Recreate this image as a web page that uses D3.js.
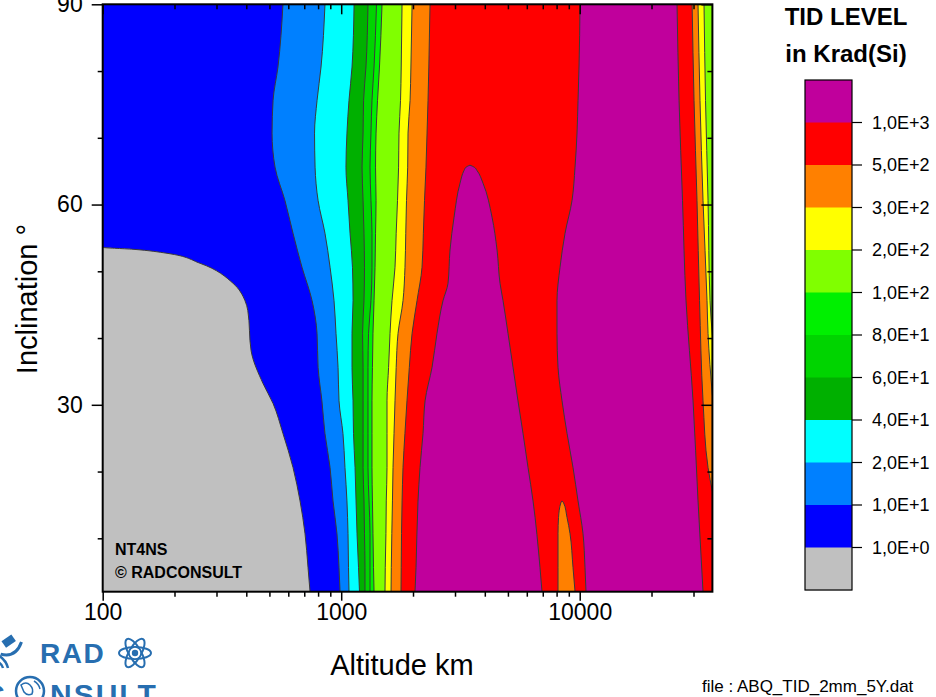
<!DOCTYPE html>
<html><head><meta charset="utf-8">
<script src="https://cdn.jsdelivr.net/npm/d3@7/dist/d3.min.js"></script>
<style>
body{margin:0;background:#fff;}
svg{display:block;font-family:"Liberation Sans",Arial,sans-serif;}
</style>
</head><body>
<svg id="chart" width="936" height="697"></svg>
<script>
// ---------------- DATA ----------------
const altitudeMajorTicks = [100, 1000, 10000];
const inclinationMajorTicks = [30, 60, 90];
const inclinationMinorTicks = [10, 20, 40, 50, 70, 80];
const legendLabels = ["1,0E+3","5,0E+2","3,0E+2","2,0E+2","1,0E+2","8,0E+1","6,0E+1","4,0E+1","2,0E+1","1,0E+1","1,0E+0"];

// 1 krad(Si) contour (grey / blue)
const tid1Inc = [2, 5.6, 10.7, 15.6, 20.6, 25.7, 30.2, 33.2, 38.1, 44.1, 45.6, 48.2, 51.2, 52.7, 53.3, 53.6, 90];
const tid1Alt = [740, 726, 705, 672, 628, 570, 518, 470, 419, 406, 395, 352, 256, 186, 134, 100, 100];

// shared inclination samples for the rising contours (degrees)
const incSamples = [2, 5.6, 10.7, 15.6, 20.6, 25.7, 30.6, 35.6, 40.7, 45.6, 50.6, 55.7, 60.6, 65.6, 70.7, 75.6, 80.6, 90];
const tid10Alt  = [989, 979, 960, 924, 898, 855, 830, 800, 792, 755, 685, 628, 581, 528, 513, 518, 543, 570];
const tid20Alt  = [1078, 1073, 1068, 1057, 1037, 1017, 979, 970, 951, 933, 898, 855, 800, 777, 773, 792, 823, 855];
const tid40Alt  = [1193, 1182, 1165, 1154, 1143, 1126, 1121, 1110, 1110, 1121, 1115, 1089, 1068, 1047, 1057, 1078, 1110, 1132];
const tid60Alt  = [1258, 1258, 1252, 1246, 1235, 1235, 1235, 1235, 1229, 1246, 1252, 1246, 1235, 1223, 1235, 1241, 1270, 1295];
const tid80Alt  = [1321, 1321, 1321, 1308, 1295, 1295, 1295, 1295, 1302, 1333, 1346, 1346, 1333, 1321, 1333, 1346, 1373, 1406];
const tid100Alt = [1373, 1366, 1359, 1352, 1346, 1346, 1346, 1352, 1359, 1373, 1386, 1393, 1400, 1393, 1400, 1420, 1447, 1483];
const tid200Alt = [1526, 1530, 1540, 1545, 1556, 1556, 1556, 1580, 1602, 1633, 1681, 1700, 1722, 1740, 1747, 1773, 1785, 1799];
const tid300Alt = [1618, 1622, 1630, 1640, 1649, 1665, 1681, 1700, 1731, 1816, 1851, 1865, 1878, 1900, 1906, 1944, 1960, 1982];
const tid500Alt = [1781, 1785, 1790, 1800, 1816, 1850, 1887, 1930, 1982, 2079, 2182, 2210, 2235, 2267, 2290, 2312, 2330, 2357];
const tid1000MainAlt = [10627, 10524, 10323, 9838, 9374, 8849, 8430, 8110, 8031, 8031, 8269, 8679, 9284, 9557, 9743, 9840, 9933, 10030];

// >1000 krad tongue near 3500 km
const tongueInc   = [2, 5.6, 15.6, 20.6, 25.7, 30.6, 35.6, 40.7, 45.6, 48.2, 53.2, 58.1, 63.2, 65.1, 65.6, 65.9];
const tongueLeft  = [2039, 2059, 2099, 2140, 2203, 2247, 2403, 2521, 2672, 2804, 2859, 2972, 3149, 3273, 3337, 3467];
const tongueRight = [6949, 6816, 6372, 6072, 5786, 5510, 5253, 5004, 4770, 4634, 4502, 4290, 3932, 3710, 3612, 3467];

// 300-500 krad tongue near 8500 km
const orangeTongueInc   = [2, 5.6, 10.7, 13.1, 15.3, 15.6];
const orangeTongueLeft  = [8110, 8110, 8110, 8150, 8330, 8430];
const orangeTongueRight = [9557, 9374, 9106, 8849, 8560, 8430];

// falling contours near GEO
const fall1000Inc = [2, 15.6, 30.6, 45.6, 60.6, 75.6, 90];
const fall1000Alt = [32885, 31335, 29864, 27908, 26980, 26087, 25586];
const fall500Inc  = [17, 20.6, 30.6, 45.6, 60.6, 75.6, 90];
const fall500Alt  = [36000, 34514, 32885, 31800, 31027, 30152, 29600];
const fall300Inc  = [31.4, 40.7, 45.6, 60.6, 75.6, 90];
const fall300Alt  = [36000, 34514, 34180, 32885, 31942, 31335];
const fall200Inc  = [40.4, 45.6, 60.6, 75.6, 90];
const fall200Alt  = [36000, 35184, 34514, 33688, 33202];

// ---------------- STYLE ----------------
const C = {
  mag:"#C0009C", red:"#FF0000", orange:"#FF8000", yellow:"#FFFF00", yg:"#80FF00",
  g80:"#00F000", g60:"#00D400", g40:"#00B000", cyan:"#00FFFF", azure:"#0080FF",
  blue:"#0000FF", grey:"#C0C0C0"
};
const legendColors = [C.mag,C.red,C.orange,C.yellow,C.yg,C.g80,C.g60,C.g40,C.cyan,C.azure,C.blue,C.grey];
const lineColor = "#3a3a3a";
const font = '"Liberation Sans",Arial,sans-serif';

// ---------------- SCALES ----------------
const L = 102.7, R = 712.4, T = 4.3, B = 591.7;
const x = d3.scaleLog().domain([100, 36000]).range([L, R]);
const y = d3.scaleLinear().domain([2, 90]).range([B, T]);

const svg = d3.select("#chart");
svg.append("rect").attr("width",936).attr("height",697).attr("fill","#fff");

svg.append("defs").append("clipPath").attr("id","plotclip")
  .append("rect").attr("x",L).attr("y",T).attr("width",R-L).attr("height",B-T);
const plot = svg.append("g").attr("clip-path","url(#plotclip)");

const zip = (a,b) => a.map((v,i)=>[v,b[i]]);
const rightArea = d3.area().curve(d3.curveMonotoneY)
  .y(d=>y(d[0])).x0(d=>x(d[1])).x1(R+5);
const bandArea = d3.area().curve(d3.curveMonotoneY)
  .y(d=>y(d[0])).x0(d=>x(d[1])).x1(d=>x(d[2]));
const contour = d3.line().curve(d3.curveMonotoneY)
  .x(d=>x(d[1])).y(d=>y(d[0]));

plot.append("rect").attr("x",L).attr("y",T).attr("width",R-L).attr("height",B-T).attr("fill",C.grey);

function fillRight(inc, alt, color){
  const pts = zip(inc, alt);
  plot.append("path").attr("d", rightArea(pts)).attr("fill", color);
  plot.append("path").attr("d", contour(pts)).attr("fill","none")
    .attr("stroke", lineColor).attr("stroke-width",1);
}
function fillBand(inc, a0, a1, color){
  const pts = inc.map((v,i)=>[v,a0[i],a1[i]]);
  plot.append("path").attr("d", bandArea(pts)).attr("fill", color)
    .attr("stroke", lineColor).attr("stroke-width",1);
}

fillRight(tid1Inc, tid1Alt, C.blue);
fillRight(incSamples, tid10Alt, C.azure);
fillRight(incSamples, tid20Alt, C.cyan);
fillRight(incSamples, tid40Alt, C.g40);
fillRight(incSamples, tid60Alt, C.g60);
fillRight(incSamples, tid80Alt, C.g80);
fillRight(incSamples, tid100Alt, C.yg);
fillRight(incSamples, tid200Alt, C.yellow);
fillRight(incSamples, tid300Alt, C.orange);
fillRight(incSamples, tid500Alt, C.red);
fillBand(tongueInc, tongueLeft, tongueRight, C.mag);
fillRight(incSamples, tid1000MainAlt, C.mag);
fillBand(orangeTongueInc, orangeTongueLeft, orangeTongueRight, C.orange);
fillRight(fall1000Inc, fall1000Alt, C.red);
fillRight(fall500Inc, fall500Alt, C.orange);
fillRight(fall300Inc, fall300Alt, C.yellow);
fillRight(fall200Inc, fall200Alt, C.yg);

// annotation inside plot
svg.append("text").attr("x",115).attr("y",555).attr("font-family",font)
  .attr("font-weight","bold").attr("font-size",16).text("NT4NS");
svg.append("text").attr("x",115).attr("y",578).attr("font-family",font)
  .attr("font-weight","bold").attr("font-size",16).text("© RADCONSULT");

// ---------------- AXES ----------------
const minorAlt = x.ticks().filter(v => !altitudeMajorTicks.includes(v));
function styleAxis(g){
  g.select(".domain").remove();
  g.selectAll("line").attr("stroke","#000").attr("stroke-width",1.5);
  g.selectAll("text").attr("font-family",font).attr("font-size",23).attr("fill","#000");
}
// bottom
svg.append("g").attr("transform",`translate(0,${B})`)
  .call(d3.axisBottom(x).tickValues(minorAlt).tickSize(5).tickFormat(""))
  .call(styleAxis);
svg.append("g").attr("transform",`translate(0,${B})`)
  .call(d3.axisBottom(x).tickValues(altitudeMajorTicks).tickSize(9).tickPadding(3).tickFormat(d3.format("d")))
  .call(styleAxis);
// top (inward)
svg.append("g").attr("transform",`translate(0,${T})`)
  .call(d3.axisTop(x).tickValues(minorAlt).tickSize(-5).tickFormat(""))
  .call(styleAxis);
svg.append("g").attr("transform",`translate(0,${T})`)
  .call(d3.axisTop(x).tickValues(altitudeMajorTicks).tickSize(-10).tickFormat(""))
  .call(styleAxis);
// left
svg.append("g").attr("transform",`translate(${L},0)`)
  .call(d3.axisLeft(y).tickValues(inclinationMinorTicks).tickSize(5).tickFormat(""))
  .call(styleAxis);
svg.append("g").attr("transform",`translate(${L},0)`)
  .call(d3.axisLeft(y).tickValues(inclinationMajorTicks).tickSize(11).tickPadding(9).tickFormat(d3.format("d")))
  .call(styleAxis);
// right (inward)
svg.append("g").attr("transform",`translate(${R},0)`)
  .call(d3.axisRight(y).tickValues(inclinationMinorTicks).tickSize(-5).tickFormat(""))
  .call(styleAxis);
svg.append("g").attr("transform",`translate(${R},0)`)
  .call(d3.axisRight(y).tickValues(inclinationMajorTicks).tickSize(-11).tickFormat(""))
  .call(styleAxis);

// frame
svg.append("rect").attr("x",L).attr("y",T).attr("width",R-L).attr("height",B-T)
  .attr("fill","none").attr("stroke","#000").attr("stroke-width",2);

// axis titles
svg.append("text").attr("x",402).attr("y",675).attr("text-anchor","middle")
  .attr("font-family",font).attr("font-size",29).text("Altitude km");
svg.append("text").attr("transform","translate(37,299) rotate(-90)").attr("text-anchor","middle")
  .attr("font-family",font).attr("font-size",29).text("Inclination °");

// ---------------- LEGEND ----------------
svg.append("text").attr("x",846).attr("y",25).attr("text-anchor","middle")
  .attr("font-family",font).attr("font-weight","bold").attr("font-size",24).text("TID LEVEL");
svg.append("text").attr("x",846).attr("y",62).attr("text-anchor","middle")
  .attr("font-family",font).attr("font-weight","bold").attr("font-size",24).text("in Krad(Si)");

const ly = d3.scaleLinear().domain([0, legendColors.length]).range([80, 590]);
const lx0 = 805, lx1 = 852;
svg.append("g").selectAll("rect").data(legendColors).join("rect")
  .attr("x",lx0).attr("width",lx1-lx0)
  .attr("y",(d,i)=>ly(i)).attr("height",(d,i)=>ly(i+1)-ly(i)+0.5)
  .attr("fill",d=>d);
svg.append("rect").attr("x",lx0).attr("y",ly(0)).attr("width",lx1-lx0).attr("height",ly(legendColors.length)-ly(0))
  .attr("fill","none").attr("stroke","#000").attr("stroke-width",1.2);
const lg = svg.append("g").selectAll("g").data(legendLabels).join("g")
  .attr("transform",(d,i)=>`translate(0,${ly(i+1)})`);
lg.append("line").attr("x1",lx1).attr("x2",lx1+10).attr("stroke","#000").attr("stroke-width",1.2);
lg.append("text").attr("x",872).attr("dy","0.35em").attr("font-family",font)
  .attr("font-size",18).text(d=>d);

// file name
svg.append("text").attr("x",702).attr("y",692).attr("font-family",font)
  .attr("font-size",17).text("file : ABQ_TID_2mm_5Y.dat");

// ---------------- LOGO ----------------
const blue = "#276EB0";
const logo = svg.append("g");
logo.append("text").attr("x",40).attr("y",663).attr("font-family",font).attr("font-weight","bold")
  .attr("font-size",28).attr("letter-spacing",1.5).attr("fill",blue).text("RAD");
const atom = logo.append("g").attr("transform","translate(135,653)");
[0,60,-60].forEach(a=>atom.append("ellipse").attr("rx",16).attr("ry",6)
  .attr("transform",`rotate(${a})`).attr("fill","none").attr("stroke",blue).attr("stroke-width",2));
atom.append("circle").attr("r",6).attr("fill","#fff").attr("stroke",blue).attr("stroke-width",1.5);
atom.append("circle").attr("r",3.2).attr("fill",blue);
// satellite dish
const dish = logo.append("g").attr("transform","translate(10,650) rotate(-35)");
dish.append("rect").attr("x",-2).attr("y",-12).attr("width",12).attr("height",8).attr("fill",blue);
dish.append("path").attr("d","M-10,-2 Q0,10 14,0").attr("fill","none").attr("stroke",blue).attr("stroke-width",3);
logo.append("path").attr("d","M-2,655 Q6,660 8,668").attr("fill","none").attr("stroke",blue).attr("stroke-width",2.5);
logo.append("path").attr("d","M-2,662 Q2,664 3,668").attr("fill","none").attr("stroke",blue).attr("stroke-width",2.5);
// CONSULT line
logo.append("text").attr("x",-17).attr("y",705).attr("font-family",font).attr("font-weight","bold")
  .attr("font-size",30).attr("fill",blue).text("C");
const globe = logo.append("g").attr("transform","translate(30,691)");
globe.append("circle").attr("r",14).attr("fill","none").attr("stroke",blue).attr("stroke-width",2.5);
globe.append("path").attr("d","M-9,-6 Q-4,-10 0,-6 Q4,-2 2,3 Q-3,5 -6,1 Z M4,-10 Q9,-7 10,-2").attr("fill","none").attr("stroke",blue).attr("stroke-width",1.5);
logo.append("text").attr("x",50).attr("y",705).attr("font-family",font).attr("font-weight","bold")
  .attr("font-size",30).attr("letter-spacing",2).attr("fill",blue).text("NSULT");
</script>
</body></html>
